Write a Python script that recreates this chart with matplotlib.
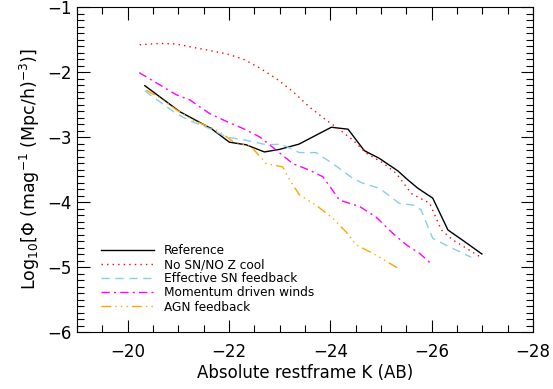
import matplotlib
matplotlib.use('Agg')
import matplotlib.pyplot as plt
from matplotlib.ticker import MultipleLocator

# magnitudes and log10 phi
ref_x = [-20.34, -21.03, -21.65, -22.01, -22.34, -22.70, -23.00, -23.38, -24.02, -24.35,
         -24.67, -24.97, -25.33, -25.53, -25.73, -26.02, -26.32, -26.65, -26.99]
ref_y = [-2.21, -2.61, -2.87, -3.08, -3.12, -3.23, -3.19, -3.11, -2.85, -2.88,
         -3.21, -3.33, -3.52, -3.66, -3.79, -3.94, -4.43, -4.61, -4.80]

nosn_x = [-20.24, -20.64, -20.96, -21.42, -21.95, -22.28, -22.61, -22.93, -23.26, -23.59,
          -23.92, -24.12, -24.45, -24.71, -25.04, -25.30, -25.60, -25.96, -26.19, -26.41, -26.97]
nosn_y = [-1.58, -1.56, -1.57, -1.64, -1.72, -1.80, -1.94, -2.10, -2.30, -2.54,
          -2.74, -2.85, -3.05, -3.25, -3.40, -3.56, -3.87, -4.02, -4.43, -4.58, -4.85]

effsn_x = [-20.34, -20.96, -21.23, -21.62, -21.95, -22.34, -22.74, -23.03, -23.39, -23.72,
           -24.05, -24.45, -24.64, -24.97, -25.36, -25.66, -25.79, -26.02, -26.35, -26.78]
effsn_y = [-2.29, -2.64, -2.75, -2.87, -3.00, -3.05, -3.12, -3.11, -3.24, -3.24,
           -3.41, -3.64, -3.71, -3.79, -4.02, -4.05, -4.12, -4.56, -4.69, -4.85]

mom_x = [-20.23, -20.64, -20.96, -21.23, -21.62, -21.95, -22.28, -22.61, -22.93, -23.26,
         -23.59, -23.85, -23.99, -24.18, -24.58, -24.90, -25.23, -25.50, -25.76, -25.99]
mom_y = [-2.01, -2.20, -2.35, -2.43, -2.64, -2.76, -2.87, -3.00, -3.20, -3.41,
         -3.51, -3.61, -3.76, -3.97, -4.07, -4.23, -4.48, -4.66, -4.79, -4.95]

agn_x = [-20.37, -20.64, -20.96, -21.29, -21.69, -21.82, -22.08, -22.44, -22.74, -23.06,
         -23.20, -23.39, -23.72, -24.05, -24.31, -24.51, -24.84, -25.36]
agn_y = [-2.28, -2.40, -2.58, -2.74, -2.87, -2.92, -3.07, -3.15, -3.41, -3.46,
         -3.66, -3.89, -4.05, -4.25, -4.46, -4.66, -4.79, -5.03]

labels = ['Reference', 'No SN/NO Z cool', 'Effective SN feedback',
          'Momentum driven winds', 'AGN feedback']

fig = plt.figure(figsize=(5.53, 3.89), dpi=100)
ax = fig.add_axes([0.139, 0.1465, 0.825, 0.8355])

ax.plot(ref_x, ref_y, color='black', lw=1.0, label=labels[0])
ax.plot(nosn_x, nosn_y, color='red', lw=1.0, linestyle=(0, (1, 3)), label=labels[1])
ax.plot(effsn_x, effsn_y, color='#87ceeb', lw=1.0, linestyle=(0, (6, 4)), label=labels[2])
ax.plot(mom_x, mom_y, color='magenta', lw=1.0, linestyle=(0, (6, 3, 1.5, 3)), label=labels[3])
ax.plot(agn_x, agn_y, color='orange', lw=1.0,
        linestyle=(0, (7, 3, 1, 3, 1, 3, 1, 3)), label=labels[4])

ax.set_xlim(-19, -28)
ax.set_ylim(-6, -1)
ax.xaxis.set_major_locator(MultipleLocator(2))
ax.xaxis.set_minor_locator(MultipleLocator(0.5))
ax.yaxis.set_major_locator(MultipleLocator(1))
ax.yaxis.set_minor_locator(MultipleLocator(0.1))
ax.tick_params(which='both', direction='in', top=True, right=True, labelsize=12)
ax.tick_params(which='major', length=9, width=0.8)
ax.tick_params(which='minor', length=5, width=0.8)
ax.tick_params(axis='x', pad=8)

ax.set_xlabel('Absolute restframe K (AB)', fontsize=12, labelpad=2)
ax.set_ylabel(r'Log$_{10}$[$\Phi$ (mag$^{-1}$ (Mpc/h)$^{-3}$)]', fontsize=12.5)

ax.legend(loc='lower left', bbox_to_anchor=(0.029, 0.023), frameon=False, fontsize=8.7,
          handlelength=4.4, handletextpad=0.83, labelspacing=0.1)

fig.savefig('out.png', dpi=100)
